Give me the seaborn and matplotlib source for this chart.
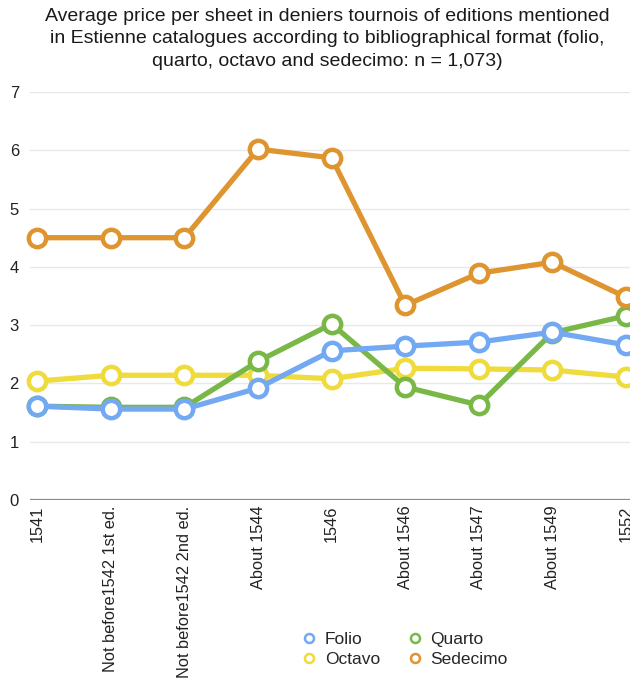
import pandas as pd
import matplotlib
matplotlib.use("Agg")
import matplotlib.pyplot as plt
from matplotlib.lines import Line2D
import seaborn as sns

# Datos
ediciones = ["1541", "Not before1542 1st ed.", "Not before1542 2nd ed.", "About 1544",
             "1546", "About 1546", "About 1547", "About 1549", "1552"]
folio = [1.61, 1.56, 1.56, 1.92, 2.56, 2.64, 2.71, 2.88, 2.66]
quarto = [1.61, 1.59, 1.59, 2.38, 3.02, 1.94, 1.63, 2.87, 3.16]
octavo = [2.04, 2.14, 2.14, 2.14, 2.08, 2.26, 2.25, 2.23, 2.11]
sedecimo = [4.50, 4.50, 4.50, 6.02, 5.87, 3.34, 3.89, 4.08, 3.48]

colores = {"Folio": "#72A9F2", "Quarto": "#79B846", "Octavo": "#EFDB3C", "Sedecimo": "#DE9530"}

df = pd.DataFrame({"edicion": ediciones * 4,
                   "precio": folio + quarto + octavo + sedecimo,
                   "formato": ["Folio"] * 9 + ["Quarto"] * 9 + ["Octavo"] * 9 + ["Sedecimo"] * 9})

sns.set_style("white")
plt.rcParams["font.family"] = ["Liberation Sans", "DejaVu Sans"]

fig = plt.figure(figsize=(6.3, 6.8), dpi=100)
ax = fig.add_axes([30 / 630, 180 / 680, 618 / 630, 408 / 680])

sns.lineplot(data=df, x="edicion", y="precio", hue="formato",
             hue_order=["Octavo", "Quarto", "Folio", "Sedecimo"],
             palette=colores, sort=False, linewidth=3.8, marker="o",
             markersize=12.5, legend=False, ax=ax)

for linea in ax.lines:
    linea.set_markeredgecolor(linea.get_color())
    linea.set_markerfacecolor("white")
    linea.set_markeredgewidth(3.2)
    linea.set_clip_on(False)

ax.set_xlim(-0.1, 8.3)
ax.set_ylim(0, 7)
ax.set_yticks(range(0, 8))
ax.grid(axis="y", color="#E8E8E8", linewidth=1.0)
ax.set_axisbelow(True)
ax.axhline(0, color="#8A8A8A", linewidth=1.6, zorder=1)
for lado in ["top", "right", "left", "bottom"]:
    ax.spines[lado].set_visible(False)
ax.tick_params(axis="both", length=0, labelsize=12, colors="#222222")
ax.tick_params(axis="x", labelsize=11.8, pad=4)
ax.tick_params(axis="y", pad=8)
plt.setp(ax.get_xticklabels(), rotation=90, va="top", ha="center")
ax.set_xlabel("")
ax.set_ylabel("")

fig.text(0.52, 0.988,
         "Average price per sheet in deniers tournois of editions mentioned\n"
         "in Estienne catalogues according to bibliographical format (folio,\n"
         "quarto, octavo and sedecimo: n = 1,073)",
         ha="center", va="top", fontsize=14, linespacing=1.4, color="#1A1A1A")

manijas = [Line2D([], [], linestyle="", marker="o", markersize=6.5, markerfacecolor="white",
                  markeredgecolor=colores[f], markeredgewidth=1.8, label=f)
           for f in ["Folio", "Octavo", "Quarto", "Sedecimo"]]
fig.legend(handles=manijas, loc="center", bbox_to_anchor=(0.643, 0.045), ncol=2,
           frameon=False, fontsize=12.5, handlelength=0.8, handletextpad=0.5,
           columnspacing=1.6, labelspacing=0.3)

fig.savefig("out.png", dpi=100)
